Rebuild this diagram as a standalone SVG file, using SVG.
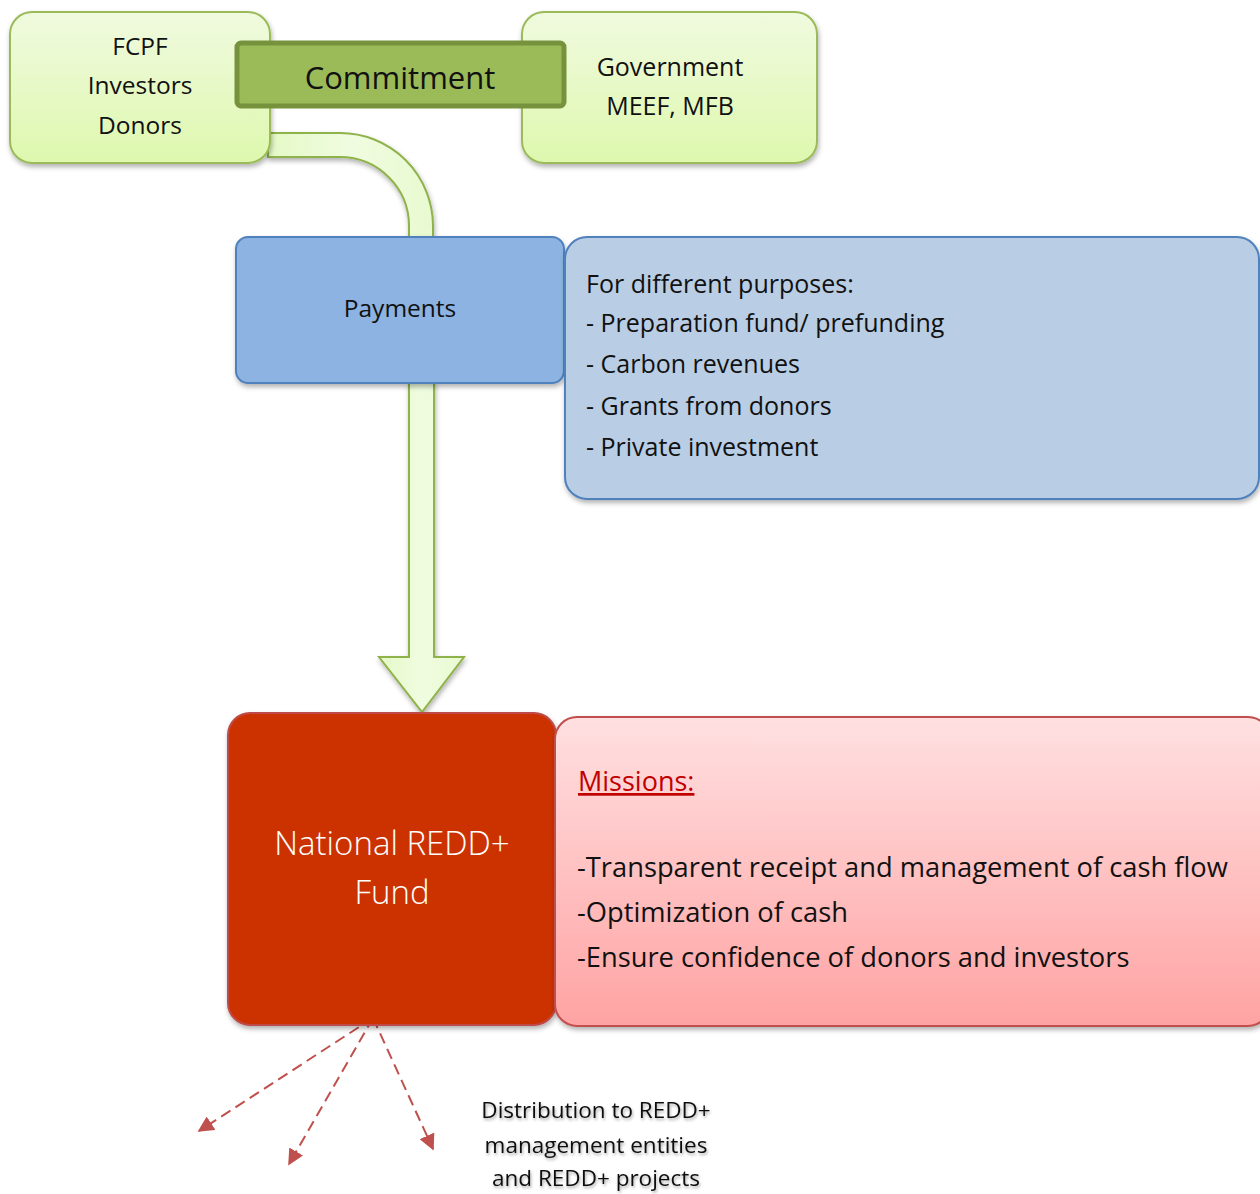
<svg xmlns="http://www.w3.org/2000/svg" width="1260" height="1194" viewBox="0 0 1260 1194">
  <defs>
    <linearGradient id="gGreen" x1="0" y1="0" x2="0" y2="1">
      <stop offset="0" stop-color="#f0fadf"/>
      <stop offset="1" stop-color="#def8ae"/>
    </linearGradient>
    <linearGradient id="gBand" x1="0" y1="0" x2="1" y2="0">
      <stop offset="0" stop-color="#e4f9c6"/>
      <stop offset="0.5" stop-color="#f0fce0"/>
      <stop offset="1" stop-color="#e8fad0"/>
    </linearGradient>
    <linearGradient id="gPink" x1="0" y1="0" x2="0" y2="1">
      <stop offset="0" stop-color="#ffe0e1"/>
      <stop offset="1" stop-color="#ffa3a3"/>
    </linearGradient>
    <filter id="shadow" x="-10%" y="-10%" width="120%" height="130%">
      <feDropShadow dx="1" dy="3" stdDeviation="2.5" flood-color="#000" flood-opacity="0.3"/>
    </filter>
    <filter id="glow" x="-10%" y="-20%" width="120%" height="140%">
      <feDropShadow dx="1" dy="2" stdDeviation="1.5" flood-color="#000" flood-opacity="0.35"/>
    </filter>
    <marker id="redHead" viewBox="0 0 10 10" refX="9" refY="5" markerWidth="8" markerHeight="8" orient="auto" markerUnits="strokeWidth">
      <path d="M0,0 L10,5 L0,10 Z" fill="#c0504d"/>
    </marker>
  </defs>
  <style>
    .txt { font-family: "Open Sans", "Noto Sans", "Liberation Sans", sans-serif; fill: #111; }
    .green { fill: url(#gGreen); stroke: #9bbb59; stroke-width: 2; }
    .band { fill: url(#gBand); stroke: #8fb24c; stroke-width: 2; }
    .dash { fill: none; stroke: #c0504d; stroke-width: 2; stroke-dasharray: 11 6; }
  </style>

  <rect width="1260" height="1194" fill="#ffffff"/>

  <!-- connectors: flow bands and distribution arrows -->
  <g id="connectors">
    <!-- curved band from the funders box down to Payments -->
    <path class="band" filter="url(#shadow)" d="M268,133 L340,133 A93,93 0 0 1 433,226 L433,238 L409,238 L409,226 A69,69 0 0 0 340,157 L268,157 Z"/>
    <!-- straight arrow from Payments down to the Fund -->
    <path class="band" filter="url(#shadow)" d="M409,382 L434,382 L434,657 L464,657 L422,712 L379,657 L409,657 Z"/>
    <!-- dashed distribution arrows -->
    <line class="dash" x1="373" y1="1018" x2="199" y2="1131" marker-end="url(#redHead)"/>
    <line class="dash" x1="373" y1="1018" x2="289" y2="1164" marker-end="url(#redHead)"/>
    <line class="dash" x1="373" y1="1018" x2="433" y2="1149" marker-end="url(#redHead)"/>
  </g>

  <g id="node-funders">
    <rect class="green" filter="url(#shadow)" x="10" y="12" width="260" height="151" rx="22"/>
    <text class="txt" font-size="24.5" text-anchor="middle" x="140" y="55">FCPF</text>
    <text class="txt" font-size="24.5" text-anchor="middle" x="140" y="94">Investors</text>
    <text class="txt" font-size="24.5" text-anchor="middle" x="140" y="134">Donors</text>
  </g>

  <g id="node-government">
    <rect class="green" filter="url(#shadow)" x="522" y="12" width="295" height="151" rx="22"/>
    <text class="txt" font-size="25" text-anchor="middle" x="670" y="76">Government</text>
    <text class="txt" font-size="25" text-anchor="middle" x="670" y="115">MEEF, MFB</text>
  </g>

  <g id="node-commitment">
    <rect x="237" y="43" width="327" height="63" rx="4" fill="#9bbb59" stroke="#76923c" stroke-width="5"/>
    <text class="txt" font-size="31" text-anchor="middle" x="400" y="89">Commitment</text>
  </g>

  <g id="node-payments">
    <rect filter="url(#shadow)" x="236" y="237" width="328" height="146" rx="12" fill="#8db3e2" stroke="#4f81bd" stroke-width="2"/>
    <text class="txt" font-size="24.5" text-anchor="middle" x="400" y="317">Payments</text>
  </g>

  <g id="node-purposes">
    <rect filter="url(#shadow)" x="565" y="237" width="694" height="262" rx="22" fill="#b9cde5" stroke="#4f81bd" stroke-width="2"/>
    <text class="txt" font-size="25" x="586" y="293">For different purposes:</text>
    <text class="txt" font-size="25" x="586" y="332">- Preparation fund/ prefunding</text>
    <text class="txt" font-size="25" x="586" y="373">- Carbon revenues</text>
    <text class="txt" font-size="25" x="586" y="415">- Grants from donors</text>
    <text class="txt" font-size="25" x="586" y="456">- Private investment</text>
  </g>

  <g id="node-fund">
    <rect filter="url(#shadow)" x="228" y="713" width="328" height="312" rx="22" fill="#cc3300" stroke="#be4b48" stroke-width="2"/>
    <text class="txt" font-size="33" font-weight="300" text-anchor="middle" x="392" y="855" style="fill:#ffffff">National REDD+</text>
    <text class="txt" font-size="33" font-weight="300" text-anchor="middle" x="392" y="904" style="fill:#ffffff">Fund</text>
  </g>

  <g id="node-missions">
    <rect filter="url(#shadow)" x="555" y="717" width="715" height="309" rx="22" fill="url(#gPink)" stroke="#c0504d" stroke-width="2"/>
    <text class="txt" font-size="27" x="578" y="791" text-decoration="underline" style="fill:#c00000">Missions:</text>
    <text class="txt" font-size="27.3" x="577" y="877">-Transparent receipt and management of cash flow</text>
    <text class="txt" font-size="27.3" x="577" y="922">-Optimization of cash</text>
    <text class="txt" font-size="27.3" x="577" y="967">-Ensure confidence of donors and investors</text>
  </g>

  <g id="label-distribution">
    <text class="txt" font-size="22.5" text-anchor="middle" x="596" y="1118" filter="url(#glow)">Distribution to REDD+</text>
    <text class="txt" font-size="22.5" text-anchor="middle" x="596" y="1153" filter="url(#glow)">management entities</text>
    <text class="txt" font-size="22.5" text-anchor="middle" x="596" y="1186" filter="url(#glow)">and REDD+ projects</text>
  </g>
</svg>
